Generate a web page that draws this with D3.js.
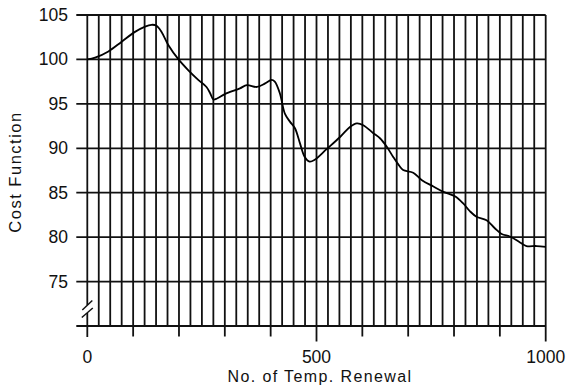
<!DOCTYPE html>
<html>
<head>
<meta charset="utf-8">
<script src="https://cdn.jsdelivr.net/npm/d3@7"></script>
<style>
  body { margin: 0; background: #fff; }
  svg { display: block; }
  text { font-family: "Liberation Sans", Arial, sans-serif; fill: #111; }
</style>
</head>
<body>
<div id="chart"></div>
<script>
// renewal count vs cost function
const renewals = [0, 17, 46, 75, 104, 126, 140, 151, 162, 177, 199, 220, 242, 260, 268, 275, 283, 300, 333, 348,
  370, 388, 402, 409, 420, 431, 442, 453, 464, 474, 485, 496, 522, 552, 573, 588, 602, 624, 639, 653,
  667, 681, 689, 711, 730, 755, 777, 802, 820, 835, 849, 871, 889, 904, 923, 944, 958, 980, 1000];
const cost = [100.0, 100.2, 100.9, 102.0, 103.1, 103.7, 103.9, 103.8, 103.1, 101.6, 100.0, 98.8, 97.7, 96.9, 96.2, 95.5, 95.6, 96.1, 96.75, 97.1,
  96.9, 97.3, 97.7, 97.5, 96.2, 93.9, 93.0, 92.25, 90.55, 89.05, 88.5, 88.7, 89.9, 91.3, 92.4, 92.8, 92.6, 91.7, 91.1, 90.2,
  89.05, 88.0, 87.55, 87.25, 86.4, 85.7, 85.1, 84.6, 83.8, 82.9, 82.3, 81.9, 81.0, 80.35, 80.05, 79.4, 79.0, 79.0, 78.9];

const yTicks = [75, 80, 85, 90, 95, 100, 105];
const xLabels = [0, 500, 1000];
const xMinor = d3.range(0, 1001, 100);
const xGrid = d3.range(0, 1001, 25);

const W = 566, H = 390;
const svg = d3.select('#chart').append('svg').attr('width', W).attr('height', H);

const x = d3.scaleLinear().domain([0, 1000]).range([87.3, 545.7]);
const y = d3.scaleLinear().domain([70, 105]).range([326, 15]);

const ink = '#111';
const grid = svg.append('g').attr('stroke', ink).attr('stroke-width', 1.8);

// vertical grid lines (axis line at 0 drawn separately because of the break)
grid.selectAll('line.v')
  .data(xGrid.filter(d => d > 0))
  .enter().append('line')
  .attr('x1', d => x(d)).attr('x2', d => x(d))
  .attr('y1', y(105)).attr('y2', y(70));

// horizontal grid lines with ticks sticking out on the left
grid.selectAll('line.h')
  .data([70].concat(yTicks))
  .enter().append('line')
  .attr('x1', x(0) - 11).attr('x2', x(1000))
  .attr('y1', d => y(d)).attr('y2', d => y(d));

// left axis with break
grid.append('line').attr('x1', x(0)).attr('x2', x(0)).attr('y1', y(105)).attr('y2', 305);
grid.append('line').attr('x1', x(0)).attr('x2', x(0)).attr('y1', 313).attr('y2', y(70) + 11);
const brk = svg.append('g').attr('stroke', ink).attr('stroke-width', 1.5);
brk.append('line').attr('x1', x(0) - 5).attr('y1', 310).attr('x2', x(0) + 5).attr('y2', 300.5);
brk.append('line').attr('x1', x(0) - 5.5).attr('y1', 317.5).attr('x2', x(0) + 5.5).attr('y2', 308);

// x ticks below the axis
grid.selectAll('line.t')
  .data(xMinor.filter(d => d > 0))
  .enter().append('line')
  .attr('x1', d => x(d)).attr('x2', d => x(d))
  .attr('y1', y(70))
  .attr('y2', d => y(70) + (d % 500 === 0 ? 15.5 : 10.5));

// labels
svg.selectAll('text.yl')
  .data(yTicks)
  .enter().append('text')
  .attr('x', 68).attr('y', d => y(d) + 6)
  .attr('text-anchor', 'end')
  .style('font-size', '17.5px')
  .text(d => d);

svg.selectAll('text.xl')
  .data(xLabels)
  .enter().append('text')
  .attr('x', d => x(d)).attr('y', 363)
  .attr('text-anchor', 'middle')
  .style('font-size', '17.5px')
  .text(d => d);

svg.append('text')
  .attr('x', 320).attr('y', 382)
  .attr('text-anchor', 'middle')
  .style('font-size', '16px')
  .style('letter-spacing', '1.4px')
  .text('No. of Temp. Renewal');

svg.append('text')
  .attr('transform', 'translate(21,172) rotate(-90)')
  .attr('text-anchor', 'middle')
  .style('font-size', '16.5px')
  .style('letter-spacing', '1.5px')
  .text('Cost Function');

// the curve
const pts = renewals.map((r, i) => [r, cost[i]]);
const line = d3.line()
  .x(d => x(d[0]))
  .y(d => y(d[1]))
  .curve(d3.curveCatmullRom.alpha(0.5));

svg.append('path')
  .attr('d', line(pts))
  .attr('fill', 'none')
  .attr('stroke', '#000')
  .attr('stroke-width', 1.8);
</script>
</body>
</html>
